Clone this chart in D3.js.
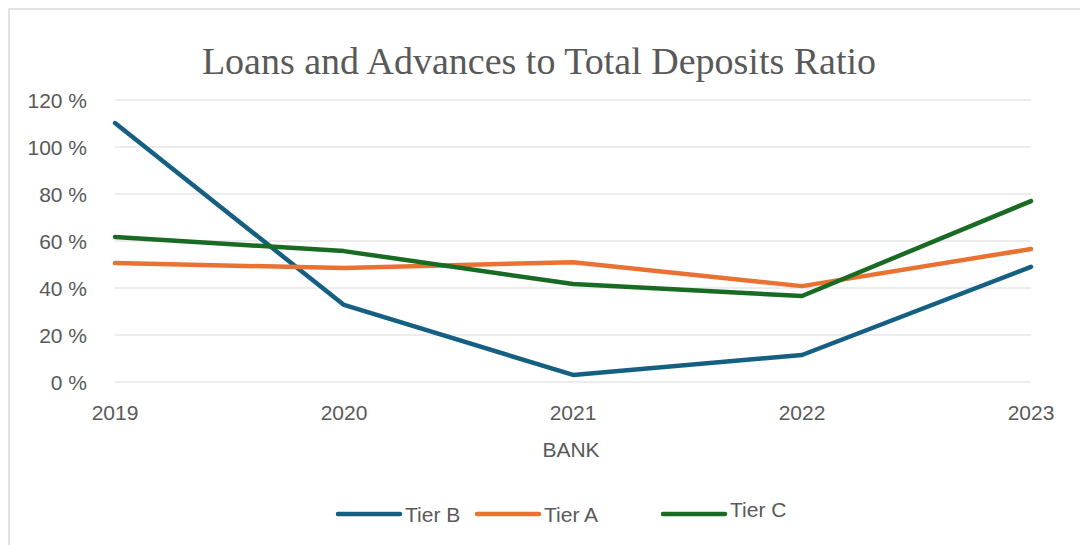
<!DOCTYPE html>
<html>
<head>
<meta charset="utf-8">
<script src="https://cdn.jsdelivr.net/npm/d3@7"></script>
<style>
  body { margin: 0; background: #fff; }
  text { font-family: 'Liberation Sans', Arial, sans-serif; fill: #595959; }
</style>
</head>
<body>
<div id="chart"></div>
<script>
const years = ['2019', '2020', '2021', '2022', '2023']
const tierB = [110.2, 32.8, 3, 11.5, 49]
const tierA = [50.6, 48.5, 51, 40.8, 56.6]
const tierC = [61.7, 55.7, 41.7, 36.6, 77]
const yTicks = [0, 20, 40, 60, 80, 100, 120]

const series = [
  { name: 'Tier B', values: tierB, color: '#156082', lx: 338, ly: 514 },
  { name: 'Tier A', values: tierA, color: '#E97132', lx: 477, ly: 514 },
  { name: 'Tier C', values: tierC, color: '#196B24', lx: 663, ly: 514 }
]

const width = 1080
const height = 545

const svg = d3
  .select('#chart')
  .append('svg')
  .attr('width', width)
  .attr('height', height)

// chart frame
svg
  .append('rect')
  .attr('x', 9)
  .attr('y', 9)
  .attr('width', width + 10)
  .attr('height', height + 10)
  .attr('fill', 'none')
  .attr('stroke', '#d9d9d9')
  .attr('stroke-width', 1.5)

const x = d3.scalePoint().domain(years).range([115, 1031])
const y = d3.scaleLinear().domain([0, 120]).range([382, 100])

// gridlines
svg
  .selectAll('.grid')
  .data(yTicks)
  .enter()
  .append('line')
  .attr('x1', 115)
  .attr('x2', 1031)
  .attr('y1', d => y(d))
  .attr('y2', d => y(d))
  .attr('stroke', '#d9d9d9')
  .attr('stroke-width', 1)

// y labels
svg
  .selectAll('.ylab')
  .data(yTicks)
  .enter()
  .append('text')
  .attr('x', 87)
  .attr('y', d => y(d))
  .attr('dy', '0.36em')
  .attr('text-anchor', 'end')
  .attr('font-size', 21)
  .text(d => d + ' %')

// x labels
svg
  .selectAll('.xlab')
  .data(years)
  .enter()
  .append('text')
  .attr('x', d => x(d))
  .attr('y', 420)
  .attr('text-anchor', 'middle')
  .attr('font-size', 21)
  .text(d => d)

svg
  .append('text')
  .attr('x', 571)
  .attr('y', 457)
  .attr('text-anchor', 'middle')
  .attr('font-size', 21)
  .text('BANK')

svg
  .append('text')
  .attr('x', 539)
  .attr('y', 74)
  .attr('text-anchor', 'middle')
  .style('font-family', "'Liberation Serif', 'Times New Roman', serif")
  .attr('font-size', 38)
  .text('Loans and Advances to Total Deposits Ratio')

const line = d3
  .line()
  .x((d, i) => x(years[i]))
  .y(d => y(d))

svg
  .selectAll('.series')
  .data(series)
  .enter()
  .append('path')
  .attr('d', d => line(d.values))
  .attr('fill', 'none')
  .attr('stroke', d => d.color)
  .attr('stroke-width', 4.5)
  .attr('stroke-linecap', 'round')
  .attr('stroke-linejoin', 'round')

// legend
const legend = svg
  .selectAll('.legend')
  .data(series)
  .enter()
  .append('g')

legend
  .append('line')
  .attr('x1', d => d.lx)
  .attr('x2', d => d.lx + 62)
  .attr('y1', d => d.ly)
  .attr('y2', d => d.ly)
  .attr('stroke', d => d.color)
  .attr('stroke-width', 4.5)
  .attr('stroke-linecap', 'round')

legend
  .append('text')
  .attr('x', d => d.lx + 67)
  .attr('y', (d, i) => (i === 2 ? 517 : 522))
  .attr('font-size', 21)
  .text(d => d.name)
</script>
</body>
</html>
